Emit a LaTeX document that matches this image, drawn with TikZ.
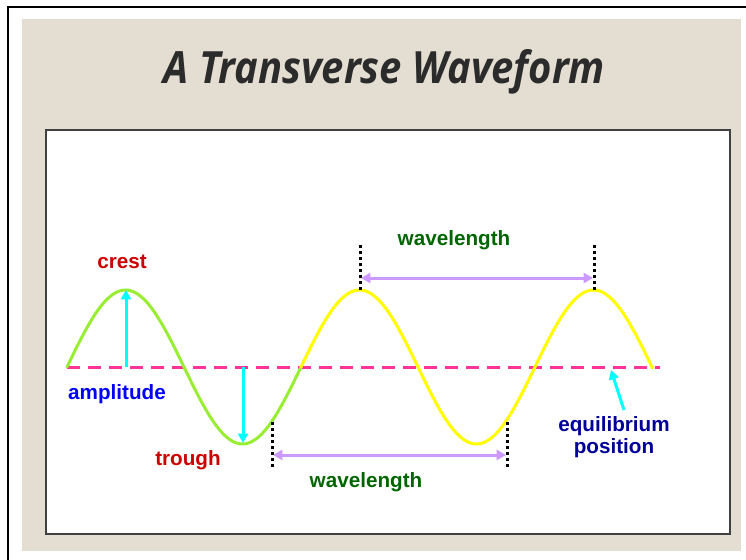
\documentclass[tikz,border=0pt]{standalone}
\usepackage{fontspec}
\usetikzlibrary{arrows.meta}
\newfontfamily\labfont{Liberation Sans}
\newfontfamily\titlefont{Open Sans}
\definecolor{beige}{HTML}{E3DED1}
\definecolor{wgreen}{HTML}{99EE33}
\definecolor{wyellow}{HTML}{FFFF00}
\definecolor{eqpink}{HTML}{FF3399}
\definecolor{ampcyan}{HTML}{00FFFF}
\definecolor{lav}{HTML}{CC99FF}
\definecolor{cred}{HTML}{CC0000}
\definecolor{cblue}{HTML}{0000FF}
\definecolor{cgreen}{HTML}{006600}
\definecolor{cnavy}{HTML}{000099}
\definecolor{tgray}{HTML}{2B2B2B}
\tikzset{
  lbl/.style={font=\labfont\bfseries\fontsize{15.5}{16.5}\selectfont, inner sep=0pt, align=center},
  wave/.style={line width=2.25pt, line cap=round},
  ampar/.style={draw=ampcyan, line width=2.25pt, -{Triangle[length=7pt,width=7.5pt]}},
  lavar/.style={draw=lav, line width=2.25pt, {Triangle[length=7pt,width=7.5pt]}-{Triangle[length=7pt,width=7.5pt]}},
  dots/.style={draw=black, line width=2.25pt, dash pattern=on 2.25pt off 2.25pt},
}
\begin{document}
\begin{tikzpicture}[x=0.75pt,y=-0.75pt]
\useasboundingbox (0,0) rectangle (746,560);
\fill[white] (0,0) rectangle (746,560);
% outer frame
\draw[black, line width=1.5pt] (8,560) -- (8,7) -- (746,7);
% beige panel
\fill[beige] (22,19) rectangle (741,551);
% inner white box
\draw[fill=white, draw=black!75, line width=0.9pt] (46,130) rectangle (730,534);
% title
\node[inner sep=0pt, text=tgray, anchor=base] (title) at (384.5,83)
  {\resizebox{330.75pt}{25.5pt}{\titlefont\bfseries\itshape A Transverse Waveform}};
% equilibrium line
\coordinate (eqL) at (67,367);
\coordinate (eqR) at (660,367);
\draw[draw=eqpink, line width=2.25pt, dash pattern=on 9.75pt off 6pt] (eqL) -- (eqR);
% wave
\draw[wave, draw=wgreen, domain=67:301, samples=120, variable=\t]
  plot (\t, {367-77*sin((\t-67)*1.538462)});
\draw[wave, draw=wyellow, domain=301:652.5, samples=160, variable=\t]
  plot (\t, {367-77*sin((\t-67)*1.538462)});
% amplitude arrows
\coordinate (a1s) at (126,367);
\coordinate (a1e) at (126,290);
\coordinate (a2s) at (243,367);
\coordinate (a2e) at (243,443);
\draw[ampar] (a1s) -- (a1e);
\draw[ampar] (a2s) -- (a2e);
% equilibrium pointer
\coordinate (eps) at (624,410);
\coordinate (epe) at (611,370);
\draw[ampar] (eps) -- (epe);
% dotted markers
\coordinate (d1t) at (360,245); \coordinate (d1b) at (360,290);
\coordinate (d2t) at (594,245); \coordinate (d2b) at (594,290);
\coordinate (d3t) at (272,422); \coordinate (d3b) at (272,467);
\coordinate (d4t) at (507,422); \coordinate (d4b) at (507,467);
\draw[dots] (d1t) -- (d1b);
\draw[dots] (d2t) -- (d2b);
\draw[dots] (d3t) -- (d3b);
\draw[dots] (d4t) -- (d4b);
% wavelength arrows
\coordinate (w1l) at (361,278); \coordinate (w1r) at (593,278);
\coordinate (w2l) at (273,455); \coordinate (w2r) at (506,455);
\draw[lavar] (w1l) -- (w1r);
\draw[lavar] (w2l) -- (w2r);
% labels
\node[lbl, text=cred] (crest) at (122,262) {crest};
\node[lbl, text=cblue] (amp) at (117,394) {amplitude};
\node[lbl, text=cred] (trough) at (188,460) {trough};
\node[lbl, text=cgreen] (wl1) at (454,240) {wavelength};
\node[lbl, text=cgreen] (wl2) at (366,482) {wavelength};
\node[lbl, text=cnavy] (eqp) at (614,437) {equilibrium\\position};
\end{tikzpicture}
\end{document}
